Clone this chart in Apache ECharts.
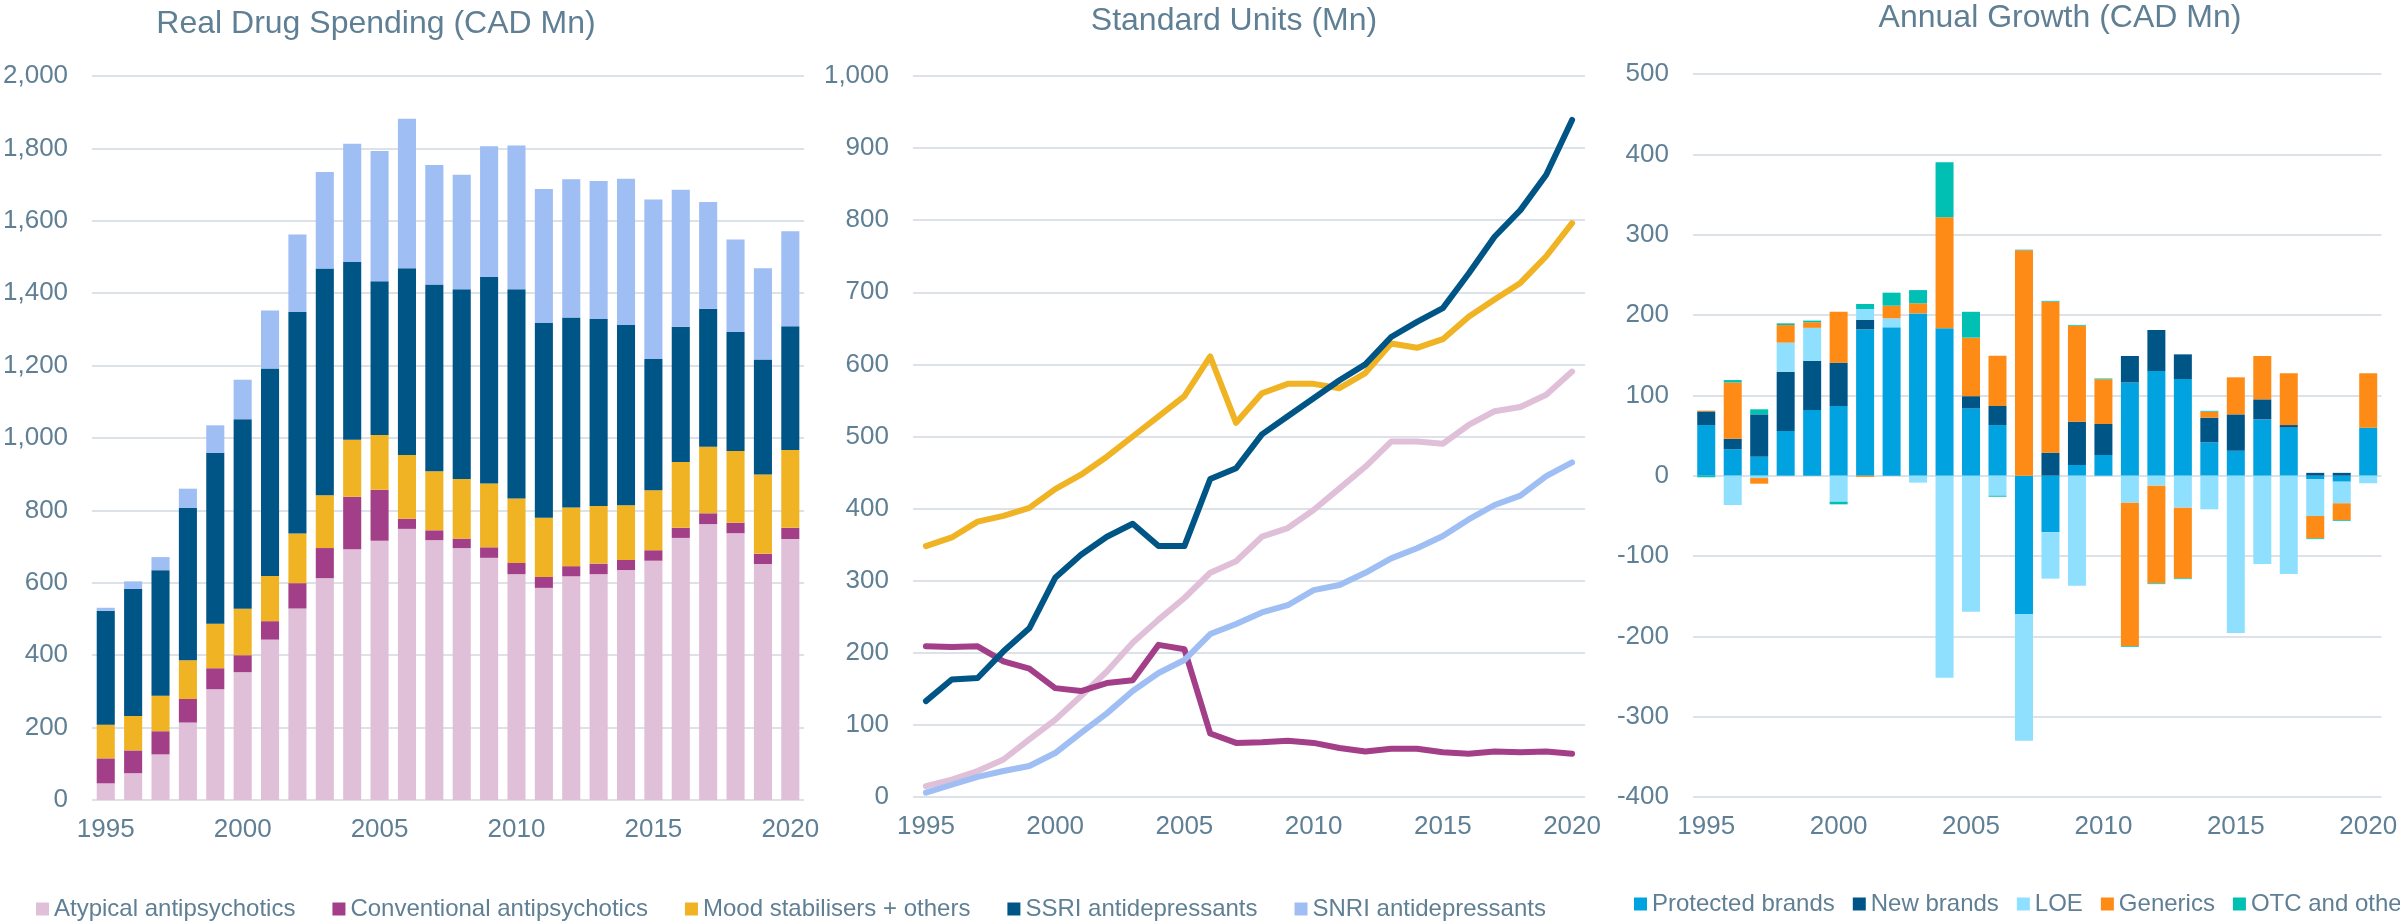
<!DOCTYPE html>
<html>
<head>
<meta charset="utf-8">
<script src="https://cdn.jsdelivr.net/npm/echarts@6/dist/echarts.min.js"></script>
<style>
html,body{margin:0;padding:0;background:#fff;}
#chart{width:2400px;height:923px;}
</style>
</head>
<body>
<div id="chart"></div>
<script>
// ---- Data ----
const years = ['1995','1996','1997','1998','1999','2000','2001','2002','2003','2004','2005','2006','2007','2008','2009','2010','2011','2012','2013','2014','2015','2016','2017','2018','2019','2020'];

// Real Drug Spending (CAD Mn)
const spendAtypical     = [46,74,126,214,306,353,443,529,613,693,716,749,718,696,669,624,586,618,624,635,661,724,762,737,652,721];
const spendConventional = [69,63,64,65,58,47,51,70,83,145,141,28,27,26,29,31,30,28,29,28,29,28,30,29,28,31];
const spendMood         = [93,95,98,107,123,128,125,137,146,157,151,176,163,165,176,178,164,162,159,151,166,182,184,198,219,215];
const spendSSRI         = [315,351,347,421,472,524,573,612,626,491,425,516,516,524,571,578,538,525,517,498,362,373,381,329,318,342];
const spendSNRI         = [8,21,36,53,76,109,160,214,267,327,360,413,330,316,361,397,370,382,381,404,441,379,295,255,252,262];

// Standard Units (Mn)
const unitsAtypical     = [15,24,36,52,80,107,140,174,214,246,276,311,327,361,373,398,428,458,493,493,490,516,535,541,558,590];
const unitsConventional = [209,208,209,188,178,151,147,158,162,211,205,88,75,76,78,75,68,63,67,67,62,60,63,62,63,60];
const unitsMood         = [348,360,382,390,401,427,447,472,500,528,556,611,519,560,573,573,567,588,629,623,635,666,690,713,750,796];
const unitsSSRI         = [133,163,165,202,234,304,336,361,379,348,348,441,456,503,528,553,578,600,638,659,678,726,777,814,863,939];
const unitsSNRI         = [6,17,28,36,43,61,89,116,147,172,190,226,240,256,266,287,294,311,331,345,362,385,405,418,445,464];

// Annual Growth (CAD Mn)
const growthProtected = [63,33,23.6,55.6,81.7,86.7,182,184.6,202,183.4,83.8,63,-172.2,-70.5,13.3,25.7,116,130.3,120.3,41.5,31,70,59.8,-4.6,-7.5,59.8];
const growthNew       = [17,13,52.7,73.9,61.3,54,11.8,0,0,0,15.2,23.7,0,28.6,53.9,38.6,33,51,30.7,30.7,45.3,25,3.2,3.5,3.5,0];
const growthLOE       = [0,-36.5,-3,36.1,41,-32.4,13.7,11.3,-8.7,-251.5,-169.3,-24.9,-157.7,-57.7,-137,0,-33.6,-12.4,-39.8,-41.9,-196,-110,-122.4,-45.6,-26.9,-9.5];
const growthGenerics  = [1,70,-7,21.9,7,63.5,-1.5,15.7,12.5,138.2,72.8,62.7,280.5,188,119.5,55.7,-178.4,-121.6,-88,7.5,46.1,54,64.4,-27.8,-20.8,67.6];
const growthOTC       = [-2,3,6.3,2.1,2,-3.3,6.2,16.2,16.5,68.4,32.2,-1.3,0.8,1,1,1,-1,-1,-1,1,0,0,0,-1,-1,0];

// ---- Styles ----
const FONT = "'Liberation Sans', Arial, Helvetica, sans-serif";
const TXT = '#5f7f94';
const GRID = '#dce2e8';
const C = {
  atypical:'#E0BFD8', conventional:'#A33F88', mood:'#EFB324', ssri:'#005587', snri:'#9EBEF4',
  protected:'#00A3E0', newb:'#005587', loe:'#8FDFFF', generics:'#FF8B17', otc:'#00BFB3'
};
const namesSpend = ['Atypical antipsychotics','Conventional antipsychotics','Mood stabilisers + others','SSRI antidepressants','SNRI antidepressants'];
const namesGrowth = ['Protected brands','New brands','LOE','Generics','OTC and other'];

function commaFmt(v){ return Number(v).toLocaleString('en-US'); }

function xAxisCfg(gi){
  return {
    type:'category', gridIndex:gi, data:years, boundaryGap:true,
    axisLine:{show:false}, axisTick:{show:false},
    axisLabel:{interval:4, color:TXT, fontSize:26, fontFamily:FONT, margin:17}
  };
}
function yAxisCfg(gi, min, max, interval, fmt){
  return {
    type:'value', gridIndex:gi, min:min, max:max, interval:interval,
    axisLine:{show:false}, axisTick:{show:false},
    axisLabel:{color:TXT, fontSize:26, fontFamily:FONT, margin:24, formatter:fmt},
    splitLine:{show:true, lineStyle:{color:GRID, width:2}}
  };
}

const spendData = [spendAtypical, spendConventional, spendMood, spendSSRI, spendSNRI];
const spendColors = [C.atypical, C.conventional, C.mood, C.ssri, C.snri];
const unitsData = [unitsAtypical, unitsConventional, unitsMood, unitsSSRI, unitsSNRI];
const growthData = [growthProtected, growthNew, growthLOE, growthGenerics, growthOTC];
const growthColors = [C.protected, C.newb, C.loe, C.generics, C.otc];

const series = [];
namesSpend.forEach((n,i)=>{
  series.push({
    name:n, type:'bar', stack:'spend', xAxisIndex:0, yAxisIndex:0,
    data:spendData[i], barCategoryGap:'34%', itemStyle:{color:spendColors[i]}
  });
});
namesSpend.forEach((n,i)=>{
  series.push({
    name:n, type:'line', xAxisIndex:1, yAxisIndex:1, data:unitsData[i],
    symbol:'none', lineStyle:{color:spendColors[i], width:6, cap:'round', join:'round'},
    itemStyle:{color:spendColors[i]}
  });
});
namesGrowth.forEach((n,i)=>{
  series.push({
    name:n, type:'bar', stack:'growth', xAxisIndex:2, yAxisIndex:2,
    data:growthData[i], barCategoryGap:'32%', itemStyle:{color:growthColors[i]}
  });
});

const titleStyle = {color:TXT, fontSize:32, fontWeight:'normal', fontFamily:FONT};

const option = {
  animation:false,
  backgroundColor:'#ffffff',
  textStyle:{fontFamily:FONT},
  title:[
    {text:'Real Drug Spending (CAD Mn)', left:376, top:8, textAlign:'center', padding:0, textStyle:titleStyle},
    {text:'Standard Units (Mn)', left:1234, top:5, textAlign:'center', padding:0, textStyle:titleStyle},
    {text:'Annual Growth (CAD Mn)', left:2060, top:2, textAlign:'center', padding:0, textStyle:titleStyle}
  ],
  legend:[
    {data:namesSpend, left:36, top:897, width:2000, icon:'rect', itemWidth:13, itemHeight:13, itemGap:37, padding:0,
     textStyle:{color:TXT, fontSize:24, fontFamily:FONT}},
    {data:namesGrowth, left:1634, top:892, width:2000, icon:'rect', itemWidth:13, itemHeight:13, itemGap:18, padding:0,
     textStyle:{color:TXT, fontSize:24, fontFamily:FONT}}
  ],
  grid:[
    {left:91, top:76, width:713, height:724},
    {left:913, top:76, width:672, height:721},
    {left:1693, top:74, width:695, height:723}
  ],
  xAxis:[xAxisCfg(0), xAxisCfg(1), xAxisCfg(2)],
  yAxis:[
    yAxisCfg(0, 0, 2000, 200, commaFmt),
    yAxisCfg(1, 0, 1000, 100, commaFmt),
    yAxisCfg(2, -400, 500, 100, (v)=>String(v))
  ],
  series:series
};

const chart = echarts.init(document.getElementById('chart'), null, {renderer:'canvas'});
chart.setOption(option);
</script>
</body>
</html>
